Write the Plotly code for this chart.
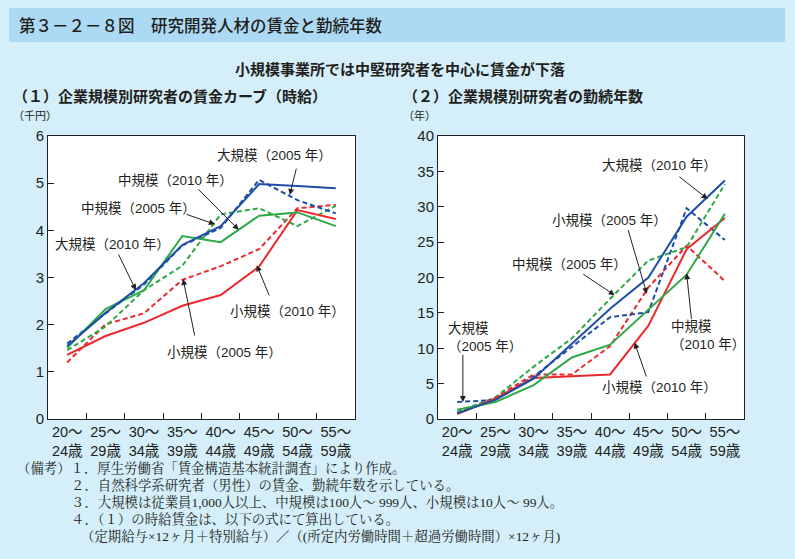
import plotly.graph_objects as go

categories = ["20～<br>24歳", "25～<br>29歳", "30～<br>34歳", "35～<br>39歳",
              "40～<br>44歳", "45～<br>49歳", "50～<br>54歳", "55～<br>59歳"]

# (1) 時給賃金 (千円)
wage_large_2010 = [1.55, 2.25, 2.88, 3.69, 4.09, 4.98, 4.94, 4.89]
wage_large_2005 = [1.60, 2.24, 2.85, 3.68, 4.05, 5.07, 4.64, 4.36]
wage_mid_2010 = [1.51, 2.33, 2.73, 3.88, 3.75, 4.31, 4.38, 4.09]
wage_mid_2005 = [1.46, 1.96, 2.73, 3.25, 4.34, 4.47, 4.09, 4.52]
wage_small_2010 = [1.36, 1.76, 2.04, 2.40, 2.63, 3.23, 4.43, 4.24]
wage_small_2005 = [1.20, 2.01, 2.24, 2.95, 3.24, 3.60, 4.47, 4.54]

# (2) 勤続年数 (年)
tenure_large_2010 = [0.8, 2.7, 5.7, 10.6, 15.6, 20.0, 28.6, 33.7]
tenure_large_2005 = [2.4, 2.7, 6.0, 10.2, 14.4, 15.1, 29.8, 25.3]
tenure_mid_2010 = [1.3, 2.4, 4.8, 8.7, 10.5, 15.4, 20.4, 29.0]
tenure_mid_2005 = [1.0, 3.05, 7.4, 11.4, 17.0, 22.4, 24.3, 33.2]
tenure_small_2010 = [0.7, 2.9, 5.8, 6.0, 6.3, 13.2, 24.0, 28.4]
tenure_small_2005 = [0.8, 3.05, 6.3, 6.3, 10.3, 18.6, 24.5, 19.5]

notes_lines = [
    "（備考）１．厚生労働省「賃金構造基本統計調査」により作成。",
    "２．自然科学系研究者（男性）の賃金、勤続年数を示している。",
    "３．大規模は従業員1,000人以上、中規模は100人～ 999人、小規模は10人～ 99人。",
    "４．（１）の時給賃金は、以下の式にて算出している。",
    "（定期給与×12ヶ月＋特別給与）／（(所定内労働時間＋超過労働時間）×12ヶ月)",
]

BLUE = "#1d4fa6"
GREEN = "#2fa847"
RED = "#ea2a2e"
FONT = "Liberation Sans, Noto Sans CJK JP"
CJK = "Noto Sans CJK JP"
SERIF = "Liberation Serif, Noto Serif CJK JP, Noto Sans CJK JP"
TXT = "#231f20"

fig = go.Figure()

series = [
    (wage_small_2005, tenure_small_2005, RED, "dash"),
    (wage_mid_2005, tenure_mid_2005, GREEN, "dash"),
    (wage_large_2005, tenure_large_2005, BLUE, "dash"),
    (wage_small_2010, tenure_small_2010, RED, "solid"),
    (wage_mid_2010, tenure_mid_2010, GREEN, "solid"),
    (wage_large_2010, tenure_large_2010, BLUE, "solid"),
]
for w, t, c, d in series:
    dash = "5px,3px" if d == "dash" else "solid"
    fig.add_trace(go.Scatter(x=categories, y=w, mode="lines", xaxis="x", yaxis="y",
                             line=dict(color=c, width=2, dash=dash), showlegend=False))
    fig.add_trace(go.Scatter(x=categories, y=t, mode="lines", xaxis="x2", yaxis="y2",
                             line=dict(color=c, width=2, dash=dash), showlegend=False))

ydom = [0.2504, 0.7567]
common_x = dict(type="category", range=[-0.5, 7.5], showline=True, linecolor="#231f20",
                linewidth=1, mirror=True, ticks="inside", tickson="boundaries", ticklen=6,
                tickcolor="#231f20", showgrid=False, zeroline=False, tickangle=0,
                automargin=False,
                tickfont=dict(family=FONT, size=14.5, color=TXT))
common_y = dict(showline=True, linecolor="#231f20", linewidth=1, mirror=True,
                ticks="inside", ticklen=6, tickcolor="#231f20", showgrid=False,
                zeroline=False, automargin=False,
                tickfont=dict(family=FONT, size=15, color=TXT))

fig.update_layout(
    width=795, height=559, margin=dict(l=0, r=0, t=0, b=0),
    paper_bgcolor="#d4eefa", plot_bgcolor="white",
    xaxis=dict(domain=[48/795, 355/795], anchor="y", **common_x),
    yaxis=dict(domain=ydom, anchor="x", range=[0, 6], dtick=1, **common_y),
    xaxis2=dict(domain=[438/795, 744/795], anchor="y2", **common_x),
    yaxis2=dict(domain=ydom, anchor="x2", range=[0, 40], dtick=5, **common_y),
)

# title bar
fig.add_shape(type="rect", xref="paper", yref="paper", x0=9/795, x1=785/795,
              y0=1 - 42/559, y1=1 - 8/559, fillcolor="#acdaf5", line=dict(width=0), layer="below")

def ptext(x, y, text, size, xanchor="left", weight="normal", family=CJK):
    fig.add_annotation(xref="paper", yref="paper", x=x/795, y=1 - y/559, text=text,
                       showarrow=False, xanchor=xanchor, yanchor="middle", align="left",
                       borderpad=0,
                       font=dict(family=family, size=size, color=TXT, weight=weight))

ptext(18, 25, "第３－２－８図　研究開発人材の賃金と勤続年数", 16.5, weight=500)
ptext(400, 68, "小規模事業所では中堅研究者を中心に賃金が下落", 15, xanchor="center", weight="bold")
ptext(12, 95, "（１）企業規模別研究者の賃金カーブ（時給）", 15, weight="bold")
ptext(402, 95, "（２）企業規模別研究者の勤続年数", 15, weight="bold")
ptext(12, 115, "（千円）", 11)
ptext(402, 115, "（年）", 11)

notes_pos = [(16, 468), (70, 485), (70, 502), (70, 519), (80, 536)]
for (x, y), t in zip(notes_pos, notes_lines):
    ptext(x, y, t, 13.4, family=SERIF)

# chart labels
def label(xr, yr, x, y, text, align="center"):
    fig.add_annotation(xref=xr, yref=yr, x=x, y=y, text=text, showarrow=False,
                       align=align, font=dict(family=FONT, size=13.5, color=TXT))

def arrow(xr, yr, x0, y0, x1, y1):
    fig.add_annotation(xref=xr, yref=yr, axref=xr, ayref=yr, x=x1, y=y1, ax=x0, ay=y0,
                       text="", showarrow=True, arrowhead=2, arrowsize=1.2,
                       arrowwidth=1, arrowcolor="#231f20")

label("x", "y", 5.41, 5.58, "大規模（2005 年）")
label("x", "y", 2.83, 5.05, "中規模（2010 年）")
label("x", "y", 1.85, 4.47, "中規模（2005 年）")
label("x", "y", 1.17, 3.69, "大規模（2010 年）")
label("x", "y", 5.75, 2.27, "小規模（2010 年）")
label("x", "y", 4.11, 1.42, "小規模（2005 年）")
arrow("x", "y", 5.98, 5.34, 5.80, 4.75)
arrow("x", "y", 3.38, 4.90, 4.47, 4.01)
arrow("x", "y", 3.07, 4.35, 3.85, 4.13)
arrow("x", "y", 1.32, 3.52, 1.79, 2.73)
arrow("x", "y", 5.28, 2.59, 4.94, 3.26)
arrow("x", "y", 3.33, 1.74, 3.02, 2.97)

label("x2", "y2", 5.30, 35.8, "大規模（2010 年）")
label("x2", "y2", 3.99, 28.0, "小規模（2005 年）")
label("x2", "y2", 2.94, 21.8, "中規模（2005 年）")
label("x2", "y2", 0.72, 11.5, "大規模<br>（2005 年）", align="left")
label("x2", "y2", 6.56, 11.8, "中規模<br>（2010 年）", align="left")
label("x2", "y2", 5.30, 4.5, "小規模（2010 年）")
arrow("x2", "y2", 5.77, 34.4, 6.55, 31.1)
arrow("x2", "y2", 4.46, 26.9, 4.96, 17.7)
arrow("x2", "y2", 3.26, 20.6, 4.12, 17.5)
arrow("x2", "y2", 0.15, 9.3, 0.15, 2.4)
arrow("x2", "y2", 6.13, 13.9, 6.00, 20.6)
arrow("x2", "y2", 4.96, 5.8, 4.64, 10.8)

fig.write_html("out.html", config={"displayModeBar": False})

# remove the default page margin so the figure sits at the window's top-left corner
with open("out.html", encoding="utf-8") as f:
    html = f.read()
html = html.replace("<head>", "<head><style>html,body{margin:0;padding:0;background:#d4eefa;}</style>", 1)
with open("out.html", "w", encoding="utf-8") as f:
    f.write(html)
